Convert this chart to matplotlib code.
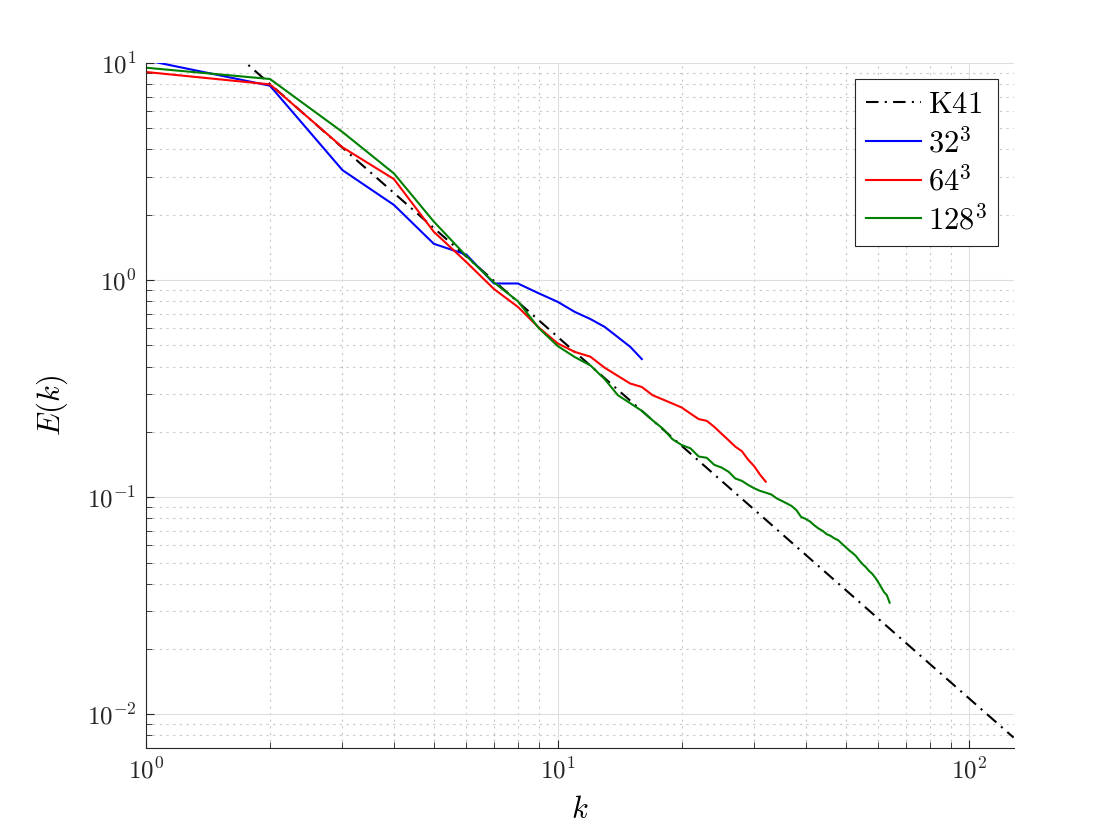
import math
import matplotlib
matplotlib.use('Agg')
import matplotlib.pyplot as plt
from matplotlib.ticker import FuncFormatter, LogLocator, NullFormatter

plt.rcParams['mathtext.fontset'] = 'cm'

# K41 reference line (end points)
k_k41 = [1, 128]
E_k41 = [25.4, 0.00782]

# 32^3
k_32 = [1, 2, 3, 4, 5, 6, 7, 8, 9, 10, 11, 12, 13, 14, 15, 16]
E_32 = [10.3, 7.86, 3.21, 2.22, 1.47, 1.31, 0.965, 0.965, 0.869, 0.794,
        0.714, 0.662, 0.609, 0.546, 0.493, 0.433]

# 64^3
k_64 = list(range(1, 33))
E_64 = [9.09, 7.97, 4.09, 2.92, 1.67, 1.21, 0.91, 0.753, 0.604, 0.511,
        0.467, 0.444, 0.395, 0.362, 0.334, 0.322, 0.295, 0.282, 0.270, 0.259,
        0.243, 0.229, 0.225, 0.211, 0.196, 0.183, 0.171, 0.163, 0.149, 0.139,
        0.127, 0.118]

# 128^3
k_128 = list(range(1, 65))
E_128 = [9.51, 8.44, 4.81, 3.10, 1.86, 1.29, 0.975, 0.80, 0.60, 0.497,
         0.442, 0.405, 0.350, 0.295, 0.271, 0.250, 0.226, 0.207, 0.185, 0.174,
         0.168, 0.154, 0.152, 0.141, 0.137, 0.131, 0.122, 0.119, 0.114, 0.110,
         0.107, 0.105, 0.103, 0.0989, 0.0962, 0.0937, 0.0911, 0.0872, 0.0812, 0.0795,
         0.0773, 0.0742, 0.0718, 0.0700, 0.0676, 0.0664, 0.0646, 0.0634, 0.0611, 0.0590,
         0.0570, 0.0554, 0.0536, 0.0512, 0.0492, 0.0477, 0.0458, 0.0445, 0.0427, 0.0407,
         0.0386, 0.0366, 0.0354, 0.0327]

fig = plt.figure(figsize=(11.2, 8.4), dpi=100)
ax = fig.add_axes([0.1304, 0.1095, 0.7746, 0.8155])

ax.loglog(k_k41, E_k41, color='black', lw=1.5, ls=(0, (6, 3, 1, 3)), label=r'$\mathrm{K41}$')
ax.loglog(k_32, E_32, color=(0, 0, 1), lw=1.5, label=r'$32^3$')
ax.loglog(k_64, E_64, color=(1, 0, 0), lw=1.5, label=r'$64^3$')
ax.loglog(k_128, E_128, color=(0, 0.5, 0), lw=1.5, label=r'$128^3$')

ax.set_xlim(1, 128)
ax.set_ylim(0.007, 10)

# MATLAB-like look
for s in ['top', 'right']:
    ax.spines[s].set_visible(False)
for s in ['left', 'bottom']:
    ax.spines[s].set_color('#262626')
    ax.spines[s].set_linewidth(0.8)

ax.xaxis.set_major_locator(LogLocator(base=10, numticks=10))
ax.yaxis.set_major_locator(LogLocator(base=10, numticks=10))
ax.xaxis.set_minor_locator(LogLocator(base=10, subs=range(2, 10), numticks=20))
ax.yaxis.set_minor_locator(LogLocator(base=10, subs=range(2, 10), numticks=20))
fmt = FuncFormatter(lambda v, p: r'$10^{%d}$' % round(math.log10(v)))
ax.xaxis.set_major_formatter(fmt)
ax.yaxis.set_major_formatter(fmt)
ax.xaxis.set_minor_formatter(NullFormatter())
ax.yaxis.set_minor_formatter(NullFormatter())

ax.tick_params(which='both', direction='in', colors='#262626', labelsize=18)
ax.tick_params(which='major', length=6, width=0.8, pad=7)
ax.tick_params(which='minor', length=4, width=0.6)

ax.grid(True, which='major', color='#dedede', lw=0.8, ls='-')
ax.grid(True, which='minor', color='#c8c8c8', lw=0.8, ls=(0, (2, 4)))
ax.set_axisbelow(True)

ax.set_xlabel(r'$k$', fontsize=22, labelpad=8)
ax.set_ylabel(r'$E(k)$', fontsize=22, labelpad=12)

leg = ax.legend(loc='upper right', bbox_to_anchor=(0.982, 0.976), borderaxespad=0,
                fontsize=22, fancybox=False, framealpha=1, edgecolor='#262626',
                handlelength=1.8, handletextpad=0.25, labelspacing=0.25,
                borderpad=0.35)
leg.get_frame().set_linewidth(0.8)

fig.savefig('out.png', dpi=100)
